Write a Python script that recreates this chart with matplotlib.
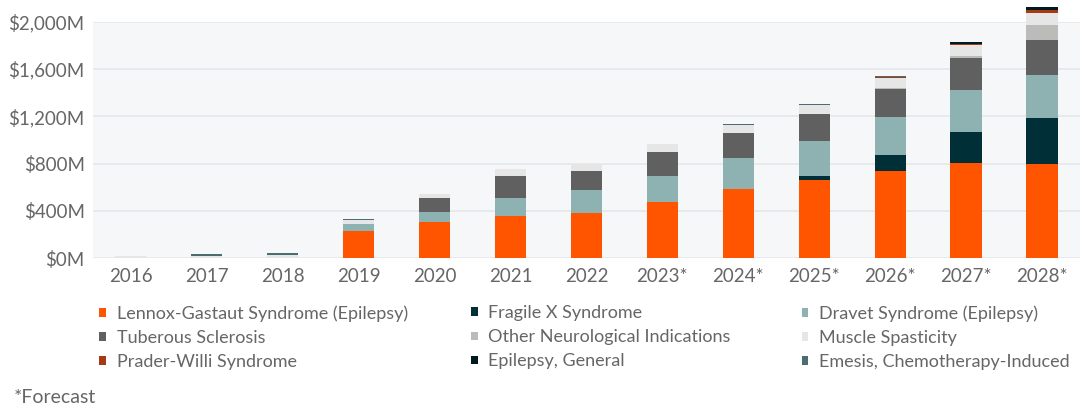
import numpy as np
import matplotlib.pyplot as plt
from matplotlib.patches import Patch

plt.rcParams['font.family'] = ['Lato', 'DejaVu Sans']

# Years (asterisk = forecast)
years = ["2016", "2017", "2018", "2019", "2020", "2021", "2022",
         "2023*", "2024*", "2025*", "2026*", "2027*", "2028*"]

# Revenue by indication, $M
lgs       = [0, 0, 0, 233, 305, 355, 381, 474, 589, 662, 736, 804, 795]
fragile_x = [0, 0, 0, 0, 0, 0, 0, 0, 0, 37, 135, 267, 389]
dravet    = [0, 0, 0, 57, 89, 155, 197, 225, 262, 293, 322, 347, 364]
tuberous  = [0, 0, 0, 0, 114, 184, 158, 200, 209, 229, 240, 274, 296]
other_neu = [0, 0, 0, 0, 0, 0, 0, 0, 0, 0, 5, 19, 127]
spastic   = [18, 22, 30, 32, 36, 61, 62, 65, 65, 73, 87, 88, 102]
prader    = [0, 0, 0, 0, 0, 0, 0, 0, 0, 0, 5, 15, 27]
epilepsy  = [0, 0, 0, 0, 0, 0, 0, 0, 0, 3, 5, 12, 22]
emesis    = [0, 10, 12, 10, 0, 0, 0, 0, 10, 10, 5, 5, 4]

series = [
    ("Lennox-Gastaut Syndrome (Epilepsy)", lgs, "#ff5500"),
    ("Fragile X Syndrome", fragile_x, "#002f38"),
    ("Dravet Syndrome (Epilepsy)", dravet, "#8eb1b1"),
    ("Tuberous Sclerosis", tuberous, "#606060"),
    ("Other Neurological Indications", other_neu, "#bbbbba"),
    ("Muscle Spasticity", spastic, "#e6e6e6"),
    ("Prader-Willi Syndrome", prader, "#a63a12"),
    ("Epilepsy, General", epilepsy, "#001a1f"),
    ("Emesis, Chemotherapy-Induced", emesis, "#4a6e70"),
]

fig = plt.figure(figsize=(10.81, 4.08), dpi=100)
ax = fig.add_axes([0.086, 0.367, 0.913, 0.58])
ax.set_facecolor("#f6f7f9")

x = np.arange(len(years))
bottom = np.zeros(len(years))
for name, vals, col in series:
    ax.bar(x, vals, width=0.41, bottom=bottom, color=col, label=name,
           clip_on=False, zorder=3)
    bottom += np.array(vals)

ax.set_xlim(-0.5, len(years) - 0.5)
ax.set_ylim(0, 2000)
ax.set_yticks([0, 400, 800, 1200, 1600, 2000])
ax.set_yticklabels(["$0M", "$400M", "$800M", "$1,200M", "$1,600M", "$2,000M"])
ax.set_xticks(x)
ax.set_xticklabels(years)
ax.tick_params(length=0, labelsize=13.5, colors="#666666", pad=7)
ax.tick_params(axis="y", pad=6)
ax.grid(axis="y", color="#e6e8eb", linewidth=1.3, zorder=0)
for s in ax.spines.values():
    s.set_visible(False)

# legend in three columns, laid out row by row
handles = [Patch(facecolor=c, label=n) for n, v, c in series]
col_x = [0.092, 0.436, 0.742]
for i in range(3):
    fig.legend(handles=handles[i::3], loc="upper left",
               bbox_to_anchor=(col_x[i], 0.252), frameon=False,
               fontsize=13, labelcolor="#666666", handlelength=0.35,
               handleheight=0.35, handletextpad=0.6, labelspacing=0.45,
               borderaxespad=0, borderpad=0)

fig.text(0.013, 0.012, "*Forecast", fontsize=14, color="#666666")

fig.savefig("out.png", dpi=100)
